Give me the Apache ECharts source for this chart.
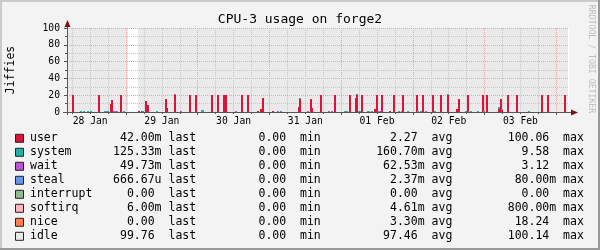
<!DOCTYPE html>
<html><head><meta charset="utf-8">
<script src="https://cdn.jsdelivr.net/npm/echarts@6/dist/echarts.min.js"></script>
<style>html,body{margin:0;padding:0;background:#f3f3f3}#c{width:600px;height:250px}</style>
</head><body><div id="c"></div>
<script>
// ---------------- data (x = hours since 27 Jan 00:00, 30-minute samples) ----------------
const chartTitle = 'CPU-3 usage on forge2';
const yAxisTitle = 'Jiffies';
const creditText = 'RRDTOOL / TOBI OETIKER';

const axisMinHour = 28.25, axisMaxHour = 196.25;
const sampleStart = 28.0, sampleEnd = 195.5, sampleStep = 0.5;
const unknownHours = [48.5, 49.0, 49.5, 50.0, 50.5, 51.0, 51.5];

const dayLabels = ['28 Jan', '29 Jan', '30 Jan', '31 Jan', '01 Feb', '02 Feb', '03 Feb'];
const dayLabelHours = [36, 60, 84, 108, 132, 156, 180];
const midnightHours = [48, 72, 96, 120, 144, 168, 192];
const yMajorTicks = [0, 20, 40, 60, 80, 100];
const yMinorTicks = [10, 30, 50, 70, 90];

const seriesNames = ['user', 'system', 'wait', 'steal', 'interrupt', 'softirq', 'nice', 'idle'];
const seriesColors = ['#DC143C', '#20B2AA', '#BA55D3', '#6495ED', '#8FBC8F', '#FFB6C1', '#FF7F50', '#EAEAEA'];

const userEvents = [[28.0,1.5],[30.0,20],[38.5,20],[42.5,9],[43.0,14],[46.0,20],[52.0,1.2],[53.0,1.2],[54.5,13],[55.0,8],
  [61.0,16],[61.5,5],[64.0,20],[69.0,20],[71.0,20],[76.5,20],[78.5,20],[80.5,20],[81.0,20],[86.5,20],[88.5,20],
  [92.0,1.2],[93.0,4],[93.5,17],[97.0,1.2],[105.5,6],[106.0,16],[109.5,16],[110.0,5],[113.0,20],[117.5,20],[122.5,20],
  [124.5,17],[125.0,20],[126.5,20],[131.0,3],[131.5,20],[133.5,20],[136.0,1.2],[137.5,20],[140.5,20],[145.0,20],
  [147.0,20],[150.5,20],[153.0,20],[155.5,20],[158.5,3],[159.0,15],[162.0,20],[167.0,20],[168.5,20],[172.5,4],
  [173.0,15],[173.5,2],[175.5,20],[178.5,20],[187.0,20],[189.0,20],[194.5,20]];
const systemEvents = [[32.5,1.2],[33.5,1.2],[35.0,1.2],[36.0,1.2],[40.5,1.2],[41.0,1.2],[41.5,1.2],[47.0,1.2],[53.5,1.2],
  [58.0,1.2],[73.0,2],[73.5,2],[99.5,1.2],[106.0,1.2],[121.0,1.2],[121.5,1.2],[125.0,1.2],[125.5,1.2],[126.0,1.2],
  [128.5,1.2],[129.0,1.2],[130.0,1.2],[139.0,1.2],[140.0,1.2],[142.0,1.2],[145.5,1.2],[146.5,1.2],[151.0,1.2],
  [155.5,1.2],[161.5,1.2],[163.0,1.2],[165.5,1.2],[167.5,1.2],[172.5,2],[173.5,1.2],[182.5,1.2]];
const waitEvents = [[43.5,1.2],[44.0,1.2],[44.5,1.2],[64.0,1.5],[66.0,1.2],[84.5,1.2],[98.5,1.2],[108.5,1.2],
  [115.5,1.2],[116.5,1.2],[132.0,1.2],[132.5,1.2],[148.0,1.2]];
const stealEvents = [];
const interruptEvents = [];
const softirqEvents = [];
const niceEvents = [];

const lastVals = ['42.00m', '125.33m', '49.73m', '666.67u', '0.00', '6.00m', '0.00', '99.76'];
const minVals  = ['0.00', '0.00', '0.00', '0.00', '0.00', '0.00', '0.00', '0.00'];
const avgVals  = ['2.27', '160.70m', '62.53m', '2.37m', '0.00', '4.61m', '3.30m', '97.46'];
const maxVals  = ['100.06', '9.58', '3.12', '80.00m', '0.00', '800.00m', '18.24', '100.14'];

// ---------------- build ----------------
const hours = [];
for (let h = sampleStart; h <= sampleEnd + 1e-9; h += sampleStep) {
  const hh = +h.toFixed(2);
  if (!unknownHours.includes(hh)) hours.push(hh);
}
const eventLists = [userEvents, systemEvents, waitEvents, stealEvents, interruptEvents, softirqEvents, niceEvents];
const maps = eventLists.map(ev => new Map(ev.map(e => [e[0], e[1]])));
function valueAt(k, h) {
  if (k < maps.length) return maps[k].get(h) || 0;
  return 100 - maps.reduce((s, m) => s + (m.get(h) || 0), 0);   // idle = remainder of 100 jiffies
}
// one row per sample: [hour, user, system, wait, steal, interrupt, softirq, nice, idle]
const rows = hours.map(h => [h].concat(seriesNames.map((n, k) => valueAt(k, h))));

const FONT = 'DejaVu Sans Mono';
const PL = 67, PT = 28, PR = 569, PB = 112;
const minorX = [];
for (let h = 30; h <= 196; h += 6) if (!midnightHours.includes(h)) minorX.push(h);
const gridGray = '#C6C6C6', gridRed = '#EFA0A0';
const IDLE = seriesNames.length - 1;

// stacked-area renderer; layer 0 = idle area (below grid), layer 1 = busy states (above grid)
function makeStack(layer) {
  return {
    name: layer ? 'busy' : 'idle', type: 'custom', coordinateSystem: 'cartesian2d', xAxisIndex: 0, yAxisIndex: 0,
    clip: true, silent: true, animation: false, z: layer ? 4 : 1,
    encode: { x: 0, y: 8 },
    data: rows,
    renderItem: function (params, api) {
      const h = api.value(0);
      const xa = Math.round(api.coord([h, 0])[0]);
      const xb = Math.round(api.coord([h + sampleStep, 0])[0]);
      const children = [];
      let b = 0;
      for (let k = 0; k < seriesNames.length; k++) {
        const v = api.value(k + 1);
        const draw = layer ? k !== IDLE : k === IDLE;
        if (v > 0 && draw) {
          const y0 = Math.round(api.coord([h, b])[1]);
          const y1 = Math.round(api.coord([h, b + v])[1]);
          const w = layer ? Math.max(2, xb - xa) : xb - xa;
          if (y0 > y1 && w > 0) {
            children.push({ type: 'rect', shape: { x: xa, y: y1, width: w, height: y0 - y1 },
              style: { fill: seriesColors[k] } });
          }
        }
        b += v;
      }
      return { type: 'group', children: children };
    }
  };
}

const baseX = { type: 'value', gridIndex: 0, min: axisMinHour, max: axisMaxHour, position: 'bottom', z: 3,
  axisLine: { show: false } };

function fmt(v) { return /[a-zA-Z]$/.test(v) ? v : v + ' '; }
const graphics = [];
seriesNames.forEach((n, i) => {
  const y = 138.3 + 14 * i;
  graphics.push({ type: 'rect', z: 100, shape: { x: 15.5, y: y - 4, width: 8, height: 8 },
    style: { fill: seriesColors[i], stroke: '#222', lineWidth: 1 } });
  const row = n.padEnd(12) + fmt(lastVals[i]).padStart(7) + ' last' + fmt(minVals[i]).padStart(14) + ' min' +
    fmt(avgVals[i]).padStart(15) + ' avg' + fmt(maxVals[i]).padStart(15) + ' max';
  graphics.push({ type: 'text', z: 100, x: 30, y: y,
    style: { text: row, fontFamily: FONT, fontSize: 11.5, fill: '#000', align: 'left', verticalAlign: 'middle' } });
});
graphics.push({ type: 'text', z: 100, x: 300, y: 19.5,
  style: { text: chartTitle, fontFamily: FONT, fontSize: 13, fill: '#000', align: 'center', verticalAlign: 'middle' } });
graphics.push({ type: 'text', z: 100, x: 11, y: 70, rotation: Math.PI / 2,
  style: { text: yAxisTitle, fontFamily: FONT, fontSize: 11.5, fill: '#000', align: 'center', verticalAlign: 'middle' } });
graphics.push({ type: 'text', z: 100, x: 591.5, y: 59, rotation: -Math.PI / 2,
  style: { text: creditText, fontFamily: FONT, fontSize: 8.2, fill: '#BDBDBD', align: 'center', verticalAlign: 'middle' } });
const axisCol = '#555555', arrowCol = '#7F1111';
graphics.push({ type: 'line', z: 100, shape: { x1: PL + 0.5, y1: PB + 3, x2: PL + 0.5, y2: 25 }, style: { stroke: axisCol, lineWidth: 1 } });
graphics.push({ type: 'line', z: 100, shape: { x1: PL - 4, y1: PB + 0.5, x2: 573, y2: PB + 0.5 }, style: { stroke: axisCol, lineWidth: 1 } });
graphics.push({ type: 'polygon', z: 101, shape: { points: [[PL + 0.5, 20], [PL - 2.5, 27], [PL + 3.5, 27]] }, style: { fill: arrowCol } });
graphics.push({ type: 'polygon', z: 101, shape: { points: [[578, PB + 0.5], [571, PB - 2.5], [571, PB + 3.5]] }, style: { fill: arrowCol } });
graphics.push({ type: 'rect', z: 99, shape: { x: 0, y: 0, width: 600, height: 2 }, style: { fill: '#CBCBCB' } });
graphics.push({ type: 'rect', z: 99, shape: { x: 0, y: 0, width: 2, height: 250 }, style: { fill: '#CBCBCB' } });
graphics.push({ type: 'rect', z: 99, shape: { x: 0, y: 248, width: 600, height: 2 }, style: { fill: '#999999' } });
graphics.push({ type: 'rect', z: 99, shape: { x: 598, y: 0, width: 2, height: 250 }, style: { fill: '#999999' } });

const option = {
  animation: false,
  backgroundColor: '#F3F3F3',
  grid: { left: PL, top: PT, right: 600 - PR, bottom: 250 - PB, show: true, backgroundColor: '#FFFFFF', borderWidth: 0, z: 0 },
  xAxis: [
    Object.assign({}, baseX, {
      axisTick: { show: true, customValues: minorX, length: 2, lineStyle: { color: axisCol } },
      axisLabel: { show: false },
      splitLine: { show: true, lineStyle: { color: gridGray, width: 1, type: [1, 1] } }
    }),
    Object.assign({}, baseX, {
      axisTick: { show: true, customValues: midnightHours, length: 3, lineStyle: { color: axisCol } },
      axisLabel: { show: false },
      splitLine: { show: true, lineStyle: { color: gridRed, width: 1, type: [1, 1] } }
    }),
    Object.assign({}, baseX, {
      axisTick: { show: false, customValues: dayLabelHours },
      splitLine: { show: false },
      axisLabel: { show: true, customValues: dayLabelHours, margin: 4, color: '#000', fontFamily: FONT, fontSize: 9.7,
        formatter: v => dayLabels[dayLabelHours.indexOf(Math.round(v))] || '' }
    })
  ],
  yAxis: [
    { type: 'value', min: 0, max: 100, position: 'left', z: 3, axisLine: { show: false },
      axisTick: { show: true, customValues: yMinorTicks, length: 2, lineStyle: { color: axisCol } },
      axisLabel: { show: false },
      splitLine: { show: true, lineStyle: { color: gridGray, width: 1, type: [1, 1] } } },
    { type: 'value', min: 0, max: 100, interval: 20, position: 'left', z: 3, axisLine: { show: false },
      axisTick: { show: true, customValues: yMajorTicks, length: 3, lineStyle: { color: axisCol } },
      axisLabel: { show: true, customValues: yMajorTicks, margin: 7, color: '#000', fontFamily: FONT, fontSize: 9.7 },
      splitLine: { show: true, lineStyle: { color: gridRed, width: 1, type: [1, 1] } } }
  ],
  series: [makeStack(0), makeStack(1)],
  graphic: { elements: graphics }
};
const chart = echarts.init(document.getElementById('c'), null, { renderer: 'canvas', width: 600, height: 250 });
chart.setOption(option);
</script></body></html>
